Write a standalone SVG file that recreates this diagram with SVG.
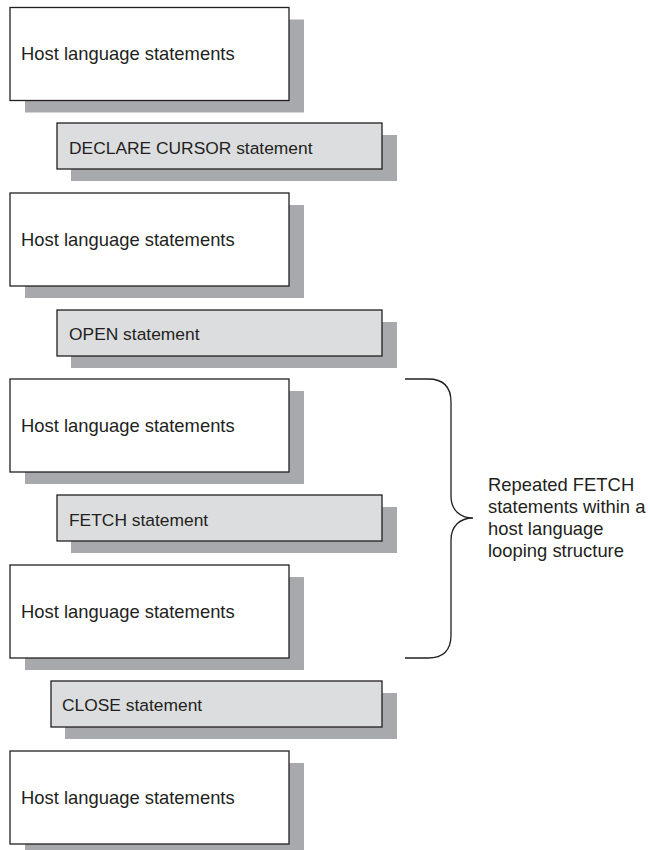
<svg xmlns="http://www.w3.org/2000/svg" width="650" height="850" viewBox="0 0 650 850">
<style>
.shadow{fill:#a7a9ac;stroke:none}
.host{fill:#ffffff;stroke:#231f20;stroke-width:1.3}
.stmt{fill:#dcdddf;stroke:#231f20;stroke-width:1.3}
.t{font-family:"Liberation Sans",Arial,sans-serif;font-size:18.4px;fill:#231f20}
.s{font-family:"Liberation Sans",Arial,sans-serif;font-size:17.4px;fill:#231f20}
.brace{fill:none;stroke:#231f20;stroke-width:1.3}
</style>
<rect width="650" height="850" fill="#ffffff"/>
<g id="host1">
<rect class="shadow" x="25" y="19.5" width="279" height="93"/>
<rect class="host" x="10" y="7.5" width="279" height="93"/>
<text class="t" x="21" y="60">Host language statements</text>
</g>
<g id="declare">
<rect class="shadow" x="71" y="135" width="326" height="46"/>
<rect class="stmt" x="57" y="123" width="325" height="46"/>
<text class="s" x="69" y="153.5">DECLARE CURSOR statement</text>
</g>
<g id="host2">
<rect class="shadow" x="25" y="205" width="279" height="93"/>
<rect class="host" x="10" y="193" width="279" height="93"/>
<text class="t" x="21" y="245.5">Host language statements</text>
</g>
<g id="open">
<rect class="shadow" x="71" y="322" width="326" height="46"/>
<rect class="stmt" x="57" y="310" width="325" height="46"/>
<text class="s" x="69" y="340">OPEN statement</text>
</g>
<g id="host3">
<rect class="shadow" x="25" y="391" width="279" height="93"/>
<rect class="host" x="10" y="379" width="279" height="93"/>
<text class="t" x="21" y="432">Host language statements</text>
</g>
<g id="fetch">
<rect class="shadow" x="71" y="507" width="326" height="46"/>
<rect class="stmt" x="57" y="495" width="325" height="46"/>
<text class="s" x="69" y="526">FETCH statement</text>
</g>
<g id="host4">
<rect class="shadow" x="25" y="577" width="279" height="93"/>
<rect class="host" x="10" y="565" width="279" height="93"/>
<text class="t" x="21" y="617.5">Host language statements</text>
</g>
<g id="close">
<rect class="shadow" x="65" y="693" width="332" height="46"/>
<rect class="stmt" x="51" y="681" width="331" height="46"/>
<text class="s" x="62" y="711">CLOSE statement</text>
</g>
<g id="host5">
<rect class="shadow" x="25" y="763" width="279" height="93"/>
<rect class="host" x="10" y="751" width="279" height="93"/>
<text class="t" x="21" y="803.5">Host language statements</text>
</g>
<g id="connectors">
<path class="brace" d="M405,379 H428 Q451,379 451,402 V496 C451,510 460,518 473,518 C460,518 451,526 451,540 V635 Q451,658 428,658 H405"/>
</g>
<g id="loop-label">
<text class="t" x="488" y="491">Repeated FETCH</text>
<text class="t" x="488" y="513">statements within a</text>
<text class="t" x="488" y="535">host language</text>
<text class="t" x="488" y="557">looping structure</text>
</g>
</svg>
